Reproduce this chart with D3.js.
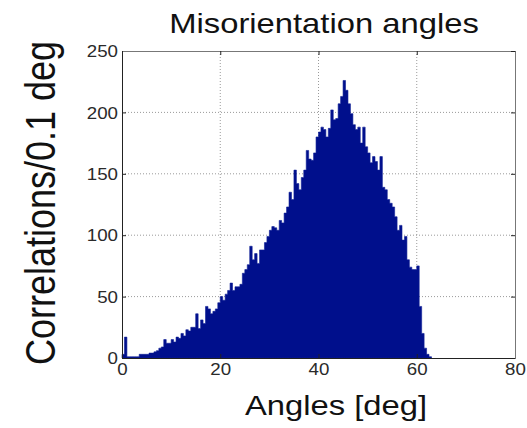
<!DOCTYPE html>
<html><head><meta charset="utf-8">
<script src="https://cdn.jsdelivr.net/npm/d3@7"></script>
<style>body{margin:0;background:#fff}svg{display:block}</style>
</head><body>
<svg id="c" width="527" height="428"></svg>
<script>
// ---- data (bins of 0.5 deg starting at 0) ----
const angleStart = 0;
const angleStep = 0.5;
const counts = [
  3, 17, 1, 1, 1, 1, 1, 3, 3, 3,
  3, 4, 4, 5, 6, 8, 9, 15, 12, 12,
  15, 13, 17, 16, 20, 18, 23, 22, 25, 25,
  36, 24, 31, 28, 42, 40, 36, 38, 40, 45,
  50, 47, 52, 55, 61, 55, 58, 58, 60, 69,
  72, 76, 91, 80, 85, 77, 88, 88, 94, 99,
  104, 107, 106, 104, 112, 110, 118, 123, 135, 129,
  153, 142, 137, 147, 153, 169, 162, 161, 167, 180,
  184, 188, 186, 180, 187, 202, 194, 195, 207, 213,
  226, 218, 207, 199, 190, 186, 188, 175, 188, 172,
  167, 159, 164, 160, 153, 164, 139, 137, 129, 126,
  123, 115, 104, 108, 96, 99, 80, 74, 72, 72,
  75, 42, 20, 8, 3, 1
];
const xTicks = [0, 20, 40, 60, 80];
const yTicks = [0, 50, 100, 150, 200, 250];
const xDomain = [0, 80];
const yDomain = [0, 250];
const titleText = "Misorientation angles";
const xLabelText = "Angles [deg]";
const yLabelText = "Correlations/0.1 deg";

// ---- layout ----
const L = 122, R = 515, T = 51, B = 358;
const stretch = 1.17;
const svg = d3.select("#c");
svg.append("rect").attr("width", 527).attr("height", 428).attr("fill", "#fff");

const x = d3.scaleLinear().domain(xDomain).range([L, R]);
const y = d3.scaleLinear().domain(yDomain).range([B, T]);

// grid
const grid = svg.append("g");
grid.selectAll("line.gx").data(xTicks.slice(1, -1)).join("line")
  .attr("x1", d => x(d)).attr("x2", d => x(d)).attr("y1", T).attr("y2", B)
  .attr("stroke", "#9a9a9a").attr("stroke-width", 1).attr("stroke-dasharray", "1,2");
grid.selectAll("line.gy").data(yTicks.slice(1, -1)).join("line")
  .attr("y1", d => y(d)).attr("y2", d => y(d)).attr("x1", L).attr("x2", R)
  .attr("stroke", "#9a9a9a").attr("stroke-width", 1).attr("stroke-dasharray", "1,2");

// histogram bars, drawn as one step outline so adjacent bins have no seams
const bins = counts.map((c, i) => ({a: angleStart + i * angleStep, c}));
const steps = bins.concat([{a: angleStart + counts.length * angleStep, c: 0}]);
const area = d3.area()
  .x(d => x(d.a))
  .y0(y(0))
  .y1(d => y(d.c))
  .curve(d3.curveStepAfter);
svg.append("path").datum(steps)
  .attr("d", area)
  .attr("fill", "#000f8c")
  .attr("stroke", "#0d1e96")
  .attr("stroke-width", 0.6)
  .attr("stroke-linejoin", "miter");

// axes (inward ticks, MATLAB style)
const fontTick = "16px Arial, 'Liberation Sans', sans-serif";
const ax = svg.append("g").attr("transform", `translate(0,${B})`)
  .call(d3.axisBottom(x).tickValues(xTicks).tickSize(-4).tickPadding(0).tickFormat(d3.format("d")));
const ay = svg.append("g").attr("transform", `translate(${L},0)`)
  .call(d3.axisLeft(y).tickValues(yTicks).tickSize(-4).tickPadding(0).tickFormat(d3.format("d")));
const axT = svg.append("g").attr("transform", `translate(0,${T})`)
  .call(d3.axisTop(x).tickValues(xTicks).tickSize(-4).tickFormat(""));
const ayR = svg.append("g").attr("transform", `translate(${R},0)`)
  .call(d3.axisRight(y).tickValues(yTicks).tickSize(-4).tickFormat(""));
[ax, ay, axT, ayR].forEach(g => {
  g.select(".domain").attr("stroke", "#222").attr("stroke-width", 1);
  g.selectAll(".tick line").attr("stroke", "#222");
});
axT.select(".domain").attr("stroke", "#777");
ayR.select(".domain").attr("stroke", "#777");

ax.selectAll(".tick text")
  .style("font", fontTick).attr("fill", "#2a2a2a")
  .attr("x", 0).attr("y", 6).attr("dy", "0.71em")
  .attr("transform", `scale(${stretch},1)`);
ay.selectAll(".tick text")
  .style("font", fontTick).attr("fill", "#2a2a2a")
  .attr("x", 0).attr("dy", "0.36em").attr("text-anchor", "end")
  .attr("transform", `translate(-4,0) scale(${stretch},1)`);

// titles
function label(txt, tx, ty, size, rot) {
  svg.append("text")
    .attr("transform", `translate(${tx},${ty}) scale(${stretch},1)` + (rot ? ` rotate(${rot})` : ""))
    .attr("text-anchor", "middle")
    .style("font", `${size}px Arial, 'Liberation Sans', sans-serif`)
    .attr("fill", "#111")
    .text(txt);
}
label(titleText, 324, 33, 28, 0);
label(xLabelText, 336, 415, 28, 0);
label(yLabelText, 55, 203, 36, -90);
</script>
</body></html>
